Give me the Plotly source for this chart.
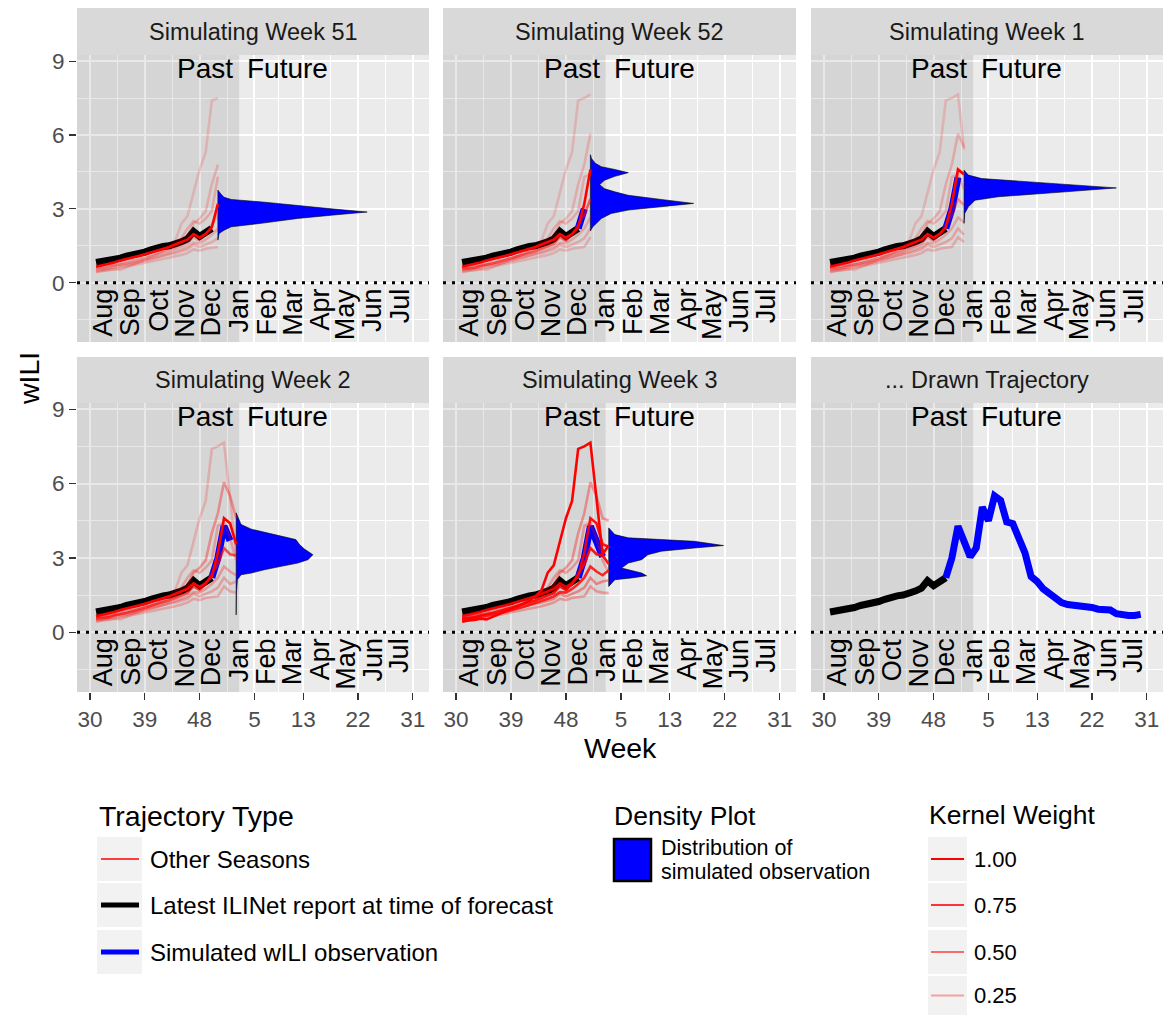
import plotly.graph_objects as go

# ---------------- data ----------------
panel_titles = ["Simulating Week 51", "Simulating Week 52", "Simulating Week 1",
                "Simulating Week 2", "Simulating Week 3", "... Drawn Trajectory"]
panel_sim_week = [51, 52, 53, 54, 55, None]   # season-week index being simulated

obs_weeks = list(range(31, 51))
ilinet_obs = [0.82, 0.85, 0.88, 0.92, 1.00, 1.08, 1.12, 1.17, 1.24, 1.33,
              1.42, 1.47, 1.50, 1.56, 1.66, 1.78, 2.08, 1.88, 2.02, 2.20]

sim_weeks = list(range(50, 83))
sim_wili = [2.20, 3.00, 4.28, 3.70, 3.05, 3.40, 5.05, 4.50, 5.50, 5.32,
            4.45, 4.38, 3.80, 3.20, 2.25, 2.05, 1.75, 1.58, 1.40, 1.20,
            1.12, 1.10, 1.09, 1.05, 1.00, 0.93, 0.88, 0.90, 0.75, 0.70,
            0.68, 0.68, 0.72]

season_weeks = list(range(31, 56))
season_a = [0.42, 0.48, 0.50, 0.55, 0.52, 0.62, 0.75, 0.85, 0.95, 1.05, 1.15, 1.28, 1.45,
            1.70, 2.40, 2.70, 3.70, 4.60, 5.30, 7.40, 7.50, 7.65, 5.40, 3.15, 3.50]
season_b = [0.60, 0.62, 0.68, 0.72, 0.80, 0.85, 0.92, 1.00, 1.05, 1.12, 1.20, 1.28, 1.35,
            1.45, 1.60, 1.90, 2.40, 2.60, 2.90, 4.00, 4.80, 6.05, 5.50, 4.60, 4.50]
season_c = [0.65, 0.70, 0.78, 0.82, 0.90, 0.95, 1.02, 1.08, 1.15, 1.22, 1.30, 1.38, 1.45,
            1.55, 1.65, 1.75, 1.97, 1.83, 1.98, 2.25, 3.20, 4.60, 4.40, 3.55, 3.45]
season_d = [0.55, 0.58, 0.60, 0.68, 0.72, 0.78, 0.85, 0.92, 0.98, 1.05, 1.12, 1.20, 1.28,
            1.38, 1.48, 1.58, 1.85, 1.70, 1.95, 2.35, 2.75, 3.40, 3.15, 3.10, 2.75]
season_e = [0.50, 0.52, 0.58, 0.62, 0.66, 0.70, 0.76, 0.82, 0.88, 0.95, 1.02, 1.10, 1.18,
            1.25, 1.35, 1.45, 1.62, 1.60, 1.75, 1.95, 2.20, 2.65, 2.45, 2.30, 2.50]
season_f = [0.60, 0.63, 0.66, 0.70, 0.74, 0.78, 0.82, 0.88, 0.92, 0.98, 1.05, 1.10, 1.15,
            1.20, 1.28, 1.35, 1.55, 1.45, 1.55, 1.65, 1.80, 2.20, 1.95, 2.05, 2.10]
season_g = [0.45, 0.50, 0.52, 0.55, 0.60, 0.65, 0.70, 0.74, 0.80, 0.85, 0.90, 0.95, 1.00,
            1.05, 1.12, 1.20, 1.35, 1.30, 1.38, 1.42, 1.45, 1.85, 1.65, 1.60, 1.58]
season_h = [0.70, 0.72, 0.78, 0.85, 0.90, 0.98, 1.05, 1.10, 1.15, 1.22, 1.30, 1.35, 1.42,
            1.55, 1.80, 2.20, 2.50, 2.40, 2.60, 2.90, 4.30, 4.40, 3.80, 2.90, 2.40]
seasons = [season_a, season_b, season_c, season_d, season_e, season_f, season_g, season_h]

# kernel weight of each past season (a..h) in each simulation panel
kernel_w_wk51 = [0.05, 0.08, 1.00, 0.12, 0.10, 0.08, 0.08, 0.10]
kernel_w_wk52 = [0.05, 0.08, 1.00, 0.50, 0.12, 0.10, 0.08, 0.10]
kernel_w_wk1 = [0.05, 0.10, 1.00, 0.25, 0.12, 0.12, 0.10, 0.10]
kernel_w_wk2 = [0.08, 0.25, 1.00, 0.60, 0.18, 0.15, 0.12, 0.15]
kernel_w_wk3 = [1.00, 0.25, 0.90, 0.90, 0.80, 0.30, 0.20, 0.20]
kernel_weights = [kernel_w_wk51, kernel_w_wk52, kernel_w_wk1, kernel_w_wk2, kernel_w_wk3]

# density of the simulated observation: wILI grid and (scaled) density in weeks
dens_v_wk51 = [1.73, 2.00, 2.13, 2.27, 2.43, 2.61, 2.74, 2.87, 3.00, 3.14, 3.27, 3.38, 3.47, 3.60, 3.76]
dens_w_wk51 = [0.0, 0.2, 1.0, 2.2, 7.7, 13.1, 18.6, 24.5, 18.6, 13.1, 7.7, 2.2, 1.0, 0.5, 0.0]
dens_v_wk52 = [2.10, 2.27, 2.61, 2.81, 2.95, 3.08, 3.22, 3.38, 3.55, 3.69, 3.82, 3.98, 4.16,
               4.32, 4.47, 4.60, 4.71, 4.85, 5.04, 5.20]
dens_w_wk52 = [0.0, 0.4, 1.8, 3.4, 6.2, 11.6, 16.9, 11.6, 6.2, 4.0, 2.3, 1.5, 2.3,
               4.0, 6.2, 4.0, 1.8, 0.8, 0.2, 0.0]
dens_v_wk1 = [2.41, 2.81, 3.08, 3.35, 3.49, 3.60, 3.69, 3.85, 3.99, 4.09, 4.23, 4.37, 4.57]
dens_w_wk1 = [0.0, 0.1, 0.7, 1.8, 5.6, 11.0, 16.6, 25.0, 16.6, 11.0, 2.9, 0.7, 0.0]
dens_v_wk2 = [0.70, 1.17, 1.57, 2.12, 2.32, 2.39, 2.52, 2.66, 2.79, 2.93, 3.13, 3.36, 3.54,
              3.74, 3.88, 4.04, 4.16, 4.35, 4.69, 4.82]
dens_w_wk2 = [0.0, 0.02, 0.05, 0.2, 0.8, 2.5, 4.6, 7.4, 10.1, 11.8, 12.6, 11.2, 10.4,
              9.8, 7.4, 4.6, 2.5, 0.8, 0.3, 0.0]
dens_v_wk3 = [1.85, 2.12, 2.19, 2.28, 2.39, 2.59, 2.79, 2.93, 3.13, 3.27, 3.40, 3.50,
              3.67, 3.74, 3.81, 3.94, 4.21]
dens_w_wk3 = [0.0, 1.0, 3.7, 6.2, 5.4, 2.1, 3.2, 5.4, 6.4, 8.6, 14.0, 18.8,
              14.0, 8.6, 3.2, 1.0, 0.0]
dens_v = [dens_v_wk51, dens_v_wk52, dens_v_wk1, dens_v_wk2, dens_v_wk3]
dens_w = [dens_w_wk51, dens_w_wk52, dens_w_wk1, dens_w_wk2, dens_w_wk3]

x_tick_vals = [30, 39, 48, 57, 65, 74, 83]
x_tick_text = ["30", "39", "48", "5", "13", "22", "31"]
x_minor_vals = [34.5, 43.5, 52.5, 61, 69.5, 78.5]
y_tick_vals = [0, 3, 6, 9]
y_minor_vals = [-1.5, 1.5, 4.5, 7.5]
month_labels = ["Aug", "Sep", "Oct", "Nov", "Dec", "Jan", "Feb", "Mar", "Apr", "May", "Jun", "Jul"]
month_pos = [32.2, 36.7, 41.3, 45.6, 49.9, 54.5, 59.0, 63.3, 67.8, 72.0, 76.4, 80.8]
past_end = 54.5

legend_traj_labels = ["Other Seasons", "Latest ILINet report at time of forecast",
                      "Simulated wILI observation"]
legend_weight_vals = [1.00, 0.75, 0.50, 0.25]

# ---------------- styling ----------------
W, H = 1174, 1016
FONT = "Liberation Sans, Arial, Helvetica, sans-serif"
XR = [27.87, 85.66]
YR = [-2.41, 9.25]
col_px = [(77, 429), (443, 796), (811, 1163)]
row_px = [(55, 342), (403, 692)]
strip_px = [(8, 55), (357, 403)]


def px(xp):
    return xp / W


def py(yp):
    return 1 - yp / H


def alpha_of(w):
    return 0.12 + 0.88 * w


fig = go.Figure()
shapes = []
annotations = []

for i in range(6):
    r, c = divmod(i, 3)
    xid = "x" if i == 0 else "x%d" % (i + 1)
    yid = "y" if i == 0 else "y%d" % (i + 1)
    sim = panel_sim_week[i]

    # past shading (over the grid, under the data)
    fig.add_trace(go.Scatter(x=[XR[0], past_end, past_end, XR[0], XR[0]],
                             y=[YR[0], YR[0], YR[1], YR[1], YR[0]],
                             mode="lines", fill="toself", fillcolor="rgba(0,0,0,0.09)",
                             line=dict(width=0, color="rgba(0,0,0,0)"),
                             xaxis=xid, yaxis=yid, showlegend=False, hoverinfo="skip"))
    # dotted zero line
    fig.add_trace(go.Scatter(x=XR, y=[0, 0], mode="lines",
                             line=dict(color="black", width=3, dash="3px,6px"),
                             xaxis=xid, yaxis=yid, showlegend=False, hoverinfo="skip"))

    # black: latest ILINet report
    fig.add_trace(go.Scatter(x=obs_weeks, y=ilinet_obs, mode="lines",
                             line=dict(color="black", width=7),
                             xaxis=xid, yaxis=yid, showlegend=False, hoverinfo="skip"))
    # blue: simulated trajectory so far
    if sim is None:
        bx, by = sim_weeks, sim_wili
    else:
        bx = [w for w in sim_weeks if w <= sim - 1]
        by = [v for w, v in zip(sim_weeks, sim_wili) if w <= sim - 1]
    if len(bx) > 1:
        fig.add_trace(go.Scatter(x=bx, y=by, mode="lines",
                                 line=dict(color="blue", width=7),
                                 xaxis=xid, yaxis=yid, showlegend=False, hoverinfo="skip"))
    if sim is not None:
        # density of next observation
        dv, dw = dens_v[i], dens_w[i]
        xs = [sim + w for w in dw] + [sim, sim]
        ys = list(dv) + [dv[-1], dv[0]]
        fig.add_trace(go.Scatter(x=xs, y=ys, mode="lines", fill="toself",
                                 fillcolor="blue", line=dict(color="black", width=0.6),
                                 xaxis=xid, yaxis=yid, showlegend=False, hoverinfo="skip"))
        # other seasons, weighted
        order = sorted(range(len(seasons)), key=lambda k: kernel_weights[i][k])
        for k in order:
            sx = [w for w in season_weeks if w <= sim]
            sy = seasons[k][:len(sx)]
            a = alpha_of(kernel_weights[i][k])
            fig.add_trace(go.Scatter(x=sx, y=sy, mode="lines",
                                     line=dict(color="rgba(255,0,0,%.3f)" % a, width=2.6),
                                     xaxis=xid, yaxis=yid, showlegend=False, hoverinfo="skip"))

    xa = dict(domain=[px(col_px[c][0]), px(col_px[c][1])], range=XR, anchor=yid,
              automargin=False,
              showgrid=True, gridcolor="white", gridwidth=2, zeroline=False, showline=False,
              tickmode="array", tickvals=x_tick_vals, ticktext=x_tick_text,
              minor=dict(tickmode="array", tickvals=x_minor_vals, showgrid=True,
                         gridcolor="white", gridwidth=1, ticks=""),
              ticks="outside" if r == 1 else "", ticklen=7, tickwidth=1.3, tickcolor="#333333",
              showticklabels=(r == 1), tickfont=dict(family=FONT, size=22.5, color="#4D4D4D"),
              fixedrange=True)
    ya = dict(domain=[py(row_px[r][1]), py(row_px[r][0])], range=YR, anchor=xid,
              automargin=False,
              showgrid=True, gridcolor="white", gridwidth=2, zeroline=False, showline=False,
              tickmode="array", tickvals=y_tick_vals,
              minor=dict(tickmode="array", tickvals=y_minor_vals, showgrid=True,
                         gridcolor="white", gridwidth=1, ticks=""),
              ticks="outside" if c == 0 else "", ticklen=7, tickwidth=1.3, tickcolor="#333333",
              showticklabels=(c == 0), tickfont=dict(family=FONT, size=22.5, color="#4D4D4D"),
              fixedrange=True)
    fig.update_layout(**{("xaxis" if i == 0 else "xaxis%d" % (i + 1)): xa,
                         ("yaxis" if i == 0 else "yaxis%d" % (i + 1)): ya})

    # strip
    shapes.append(dict(type="rect", xref="paper", yref="paper",
                       x0=px(col_px[c][0]), x1=px(col_px[c][1]),
                       y0=py(strip_px[r][1]), y1=py(strip_px[r][0]),
                       fillcolor="#D9D9D9", line=dict(width=0), layer="above"))
    annotations.append(dict(xref="paper", yref="paper",
                            x=px((col_px[c][0] + col_px[c][1]) / 2),
                            y=py((strip_px[r][0] + strip_px[r][1]) / 2),
                            text=panel_titles[i], showarrow=False, xanchor="center",
                            yanchor="middle",
                            font=dict(family=FONT, size=23.5, color="#1A1A1A")))
    # Past / Future
    annotations.append(dict(xref=xid, yref=yid, x=past_end, y=8.7, text="Past",
                            showarrow=False, xanchor="right", yanchor="middle", xshift=-4,
                            font=dict(family=FONT, size=28, color="black")))
    annotations.append(dict(xref=xid, yref=yid, x=past_end, y=8.7, text="Future",
                            showarrow=False, xanchor="left", yanchor="middle", xshift=6,
                            font=dict(family=FONT, size=28, color="black")))
    # month labels
    for lab, mp in zip(month_labels, month_pos):
        annotations.append(dict(xref=xid, yref=yid, x=mp, y=-0.15, text=lab,
                                showarrow=False, textangle=-90, xanchor="center",
                                yanchor="top",
                                font=dict(family=FONT, size=27, color="black")))

# axis titles
annotations.append(dict(xref="paper", yref="paper", x=px(620), y=py(748), text="Week",
                        showarrow=False, xanchor="center", yanchor="middle",
                        font=dict(family=FONT, size=28.5, color="black")))
annotations.append(dict(xref="paper", yref="paper", x=px(29), y=py(378), text="wILI",
                        showarrow=False, textangle=-90, xanchor="center", yanchor="middle",
                        font=dict(family=FONT, size=28.5, color="black")))

# ---------------- legends ----------------
# Trajectory Type
annotations.append(dict(xref="paper", yref="paper", x=px(97), y=py(816),
                        text="Trajectory Type", showarrow=False, xanchor="left",
                        yanchor="middle", font=dict(family=FONT, size=28.5, color="black")))
traj_key_y = [(837, 881), (883, 927), (930, 974)]
traj_colors = ["red", "black", "blue"]
traj_widths = [1.6, 5, 5]
for (y0, y1), col, lw, lab in zip(traj_key_y, traj_colors, traj_widths, legend_traj_labels):
    ym = (y0 + y1) / 2
    shapes.append(dict(type="rect", xref="paper", yref="paper", x0=px(97), x1=px(142),
                       y0=py(y1), y1=py(y0), fillcolor="#F2F2F2", line=dict(width=0)))
    shapes.append(dict(type="line", xref="paper", yref="paper", x0=px(101), x1=px(139),
                       y0=py(ym), y1=py(ym), line=dict(color=col, width=lw)))
    annotations.append(dict(xref="paper", yref="paper", x=px(148), y=py(ym), text=lab,
                            showarrow=False, xanchor="left", yanchor="middle",
                            font=dict(family=FONT, size=24, color="black")))

# Density Plot
annotations.append(dict(xref="paper", yref="paper", x=px(612), y=py(816),
                        text="Density Plot", showarrow=False, xanchor="left",
                        yanchor="middle", font=dict(family=FONT, size=26.5, color="black")))
shapes.append(dict(type="rect", xref="paper", yref="paper", x0=px(614), x1=px(651),
                   y0=py(881), y1=py(839), fillcolor="blue",
                   line=dict(color="black", width=2.5)))
annotations.append(dict(xref="paper", yref="paper", x=px(659), y=py(848),
                        text="Distribution of", showarrow=False, xanchor="left",
                        yanchor="middle", font=dict(family=FONT, size=21.5, color="black")))
annotations.append(dict(xref="paper", yref="paper", x=px(659), y=py(872),
                        text="simulated observation", showarrow=False, xanchor="left",
                        yanchor="middle", font=dict(family=FONT, size=21.5, color="black")))

# Kernel Weight
annotations.append(dict(xref="paper", yref="paper", x=px(927), y=py(815),
                        text="Kernel Weight", showarrow=False, xanchor="left",
                        yanchor="middle", font=dict(family=FONT, size=26.5, color="black")))
kw_key_y = [(837, 881), (883, 927), (930, 974), (976, 1015)]
for (y0, y1), wv in zip(kw_key_y, legend_weight_vals):
    ym = (y0 + y1) / 2
    shapes.append(dict(type="rect", xref="paper", yref="paper", x0=px(928), x1=px(967),
                       y0=py(y1), y1=py(y0), fillcolor="#F2F2F2", line=dict(width=0)))
    shapes.append(dict(type="line", xref="paper", yref="paper", x0=px(931), x1=px(964),
                       y0=py(ym), y1=py(ym),
                       line=dict(color="rgba(255,0,0,%.3f)" % alpha_of(wv), width=2.2)))
    annotations.append(dict(xref="paper", yref="paper", x=px(972), y=py(ym),
                            text="%.2f" % wv, showarrow=False, xanchor="left",
                            yanchor="middle", font=dict(family=FONT, size=22, color="black")))

fig.update_layout(width=W, height=H, autosize=False,
                  margin=dict(l=0, r=0, t=0, b=0, pad=0, autoexpand=False),
                  paper_bgcolor="white", plot_bgcolor="#EBEBEB",
                  font=dict(family=FONT),
                  shapes=shapes, annotations=annotations, showlegend=False)

fig.write_html(
    "out.html",
    config={"displayModeBar": False, "staticPlot": True},
    post_script=("document.body.style.margin='0px';document.body.style.padding='0px';"
                 "document.body.style.overflow='hidden';"
                 "var gd=document.getElementById('{plot_id}');"
                 "gd.style.position='absolute';gd.style.top='0px';gd.style.left='0px';"),
)
